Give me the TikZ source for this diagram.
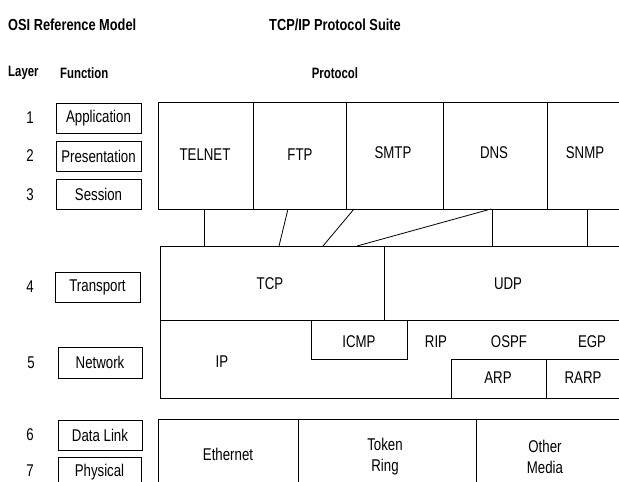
\documentclass[tikz,border=0pt]{standalone}
\usepackage{fontspec}
\setmainfont[FakeStretch=0.78]{Liberation Sans}
\newfontfamily\hdfont[FakeStretch=0.8]{Liberation Sans}
\newfontfamily\colfont[FakeStretch=0.76]{Liberation Sans}
\begin{document}
\begin{tikzpicture}[x=1pt,y=-1pt,
  lbl/.style={inner sep=0pt,font=\fontsize{17}{21}\selectfont,align=center},
  tophead/.style={inner sep=0pt,font=\hdfont\bfseries\fontsize{16}{19}\selectfont},
  colhead/.style={inner sep=0pt,font=\colfont\bfseries\fontsize{15}{18}\selectfont},
  fbox/.style={draw,line width=0.8pt},
  ln/.style={line width=0.8pt}]
\clip (0,0) rectangle (619,482);
\fill[white] (0,0) rectangle (619,482);
% headers
\node[tophead,anchor=west] (osi) at (8,25) {OSI Reference Model};
\node[tophead,anchor=west] (tcpip) at (269,25) {TCP/IP Protocol Suite};
\node[colhead,anchor=west] (layer) at (8,73) {Layer};
\node[colhead,anchor=west] (func) at (60,73) {Function};
\node[colhead] (proto) at (335,73) {Protocol};
% layer numbers
\node[lbl] (n1) at (30,118) {1};
\node[lbl] (n2) at (30,156) {2};
\node[lbl] (n3) at (30,195) {3};
\node[lbl] (n4) at (30,287) {4};
\node[lbl] (n5) at (31,363) {5};
\node[lbl] (n6) at (30,435) {6};
\node[lbl] (n7) at (30,471) {7};
% function boxes
\draw[fbox] (56,103) rectangle (141,133);
\node[lbl] (app) at (98.5,118) {Application};
\draw[fbox] (56,141) rectangle (141,171);
\node[lbl] (pres) at (98.5,156) {Presentation};
\draw[fbox] (56,179) rectangle (141,209);
\node[lbl] (sess) at (98.5,194) {Session};
\draw[fbox] (55,272) rectangle (140,302);
\node[lbl] (trans) at (97.5,287) {Transport};
\draw[fbox] (58,347) rectangle (142,378);
\node[lbl] (net) at (100,362.5) {Network};
\draw[fbox] (58,420) rectangle (142,450);
\node[lbl] (dl) at (100,435) {Data Link};
\draw[fbox] (58,457) rectangle (141,495);
\node[lbl] (phys) at (99.5,472) {Physical};
% application row
\draw[ln] (158,102) rectangle (640,209);
\foreach \x in {253,346,443,547} \draw[ln] (\x,102) -- (\x,209);
\node[lbl] (telnet) at (205,155) {TELNET};
\node[lbl] (ftp) at (300,155) {FTP};
\node[lbl] (smtp) at (393,153) {SMTP};
\node[lbl] (dns) at (494,153) {DNS};
\node[lbl] (snmp) at (585,153) {SNMP};
% connectors
\coordinate (a1) at (204,209); \coordinate (b1) at (204,246);
\coordinate (a2) at (288,209); \coordinate (b2) at (279,246);
\coordinate (a3) at (354,209); \coordinate (b3) at (323,246);
\coordinate (a4) at (491,209); \coordinate (b4) at (357,246);
\coordinate (a5) at (492,209); \coordinate (b5) at (492,246);
\coordinate (a6) at (587,209); \coordinate (b6) at (587,246);
\foreach \i in {1,...,6} \draw[ln] (a\i) -- (b\i);
% transport row
\draw[ln] (160,246) rectangle (640,320);
\draw[ln] (384,246) -- (384,320);
\node[lbl] (tcp) at (270,284) {TCP};
\node[lbl] (udp) at (508,284) {UDP};
% network row
\draw[ln] (160,320) -- (160,398) -- (640,398);
\draw[ln] (311,320) -- (311,359) -- (407,359) -- (407,320);
\draw[ln] (451,398) -- (451,359) -- (640,359);
\draw[ln] (546,359) -- (546,398);
\node[lbl] (ip) at (222,362) {IP};
\node[lbl] (icmp) at (359,342) {ICMP};
\node[lbl] (rip) at (436,342) {RIP};
\node[lbl] (ospf) at (509,342) {OSPF};
\node[lbl] (egp) at (592,342) {EGP};
\node[lbl] (arp) at (498,378) {ARP};
\node[lbl] (rarp) at (583,378) {RARP};
% link row
\draw[ln] (158,419) rectangle (640,495);
\draw[ln] (298,419) -- (298,495);
\draw[ln] (476,419) -- (476,495);
\node[lbl] (eth) at (228,454) {Ethernet};
\node[lbl] (token) at (385,457) {Token\\Ring};
\node[lbl] (other) at (545,457) {Other\\Media};
\end{tikzpicture}
\end{document}
